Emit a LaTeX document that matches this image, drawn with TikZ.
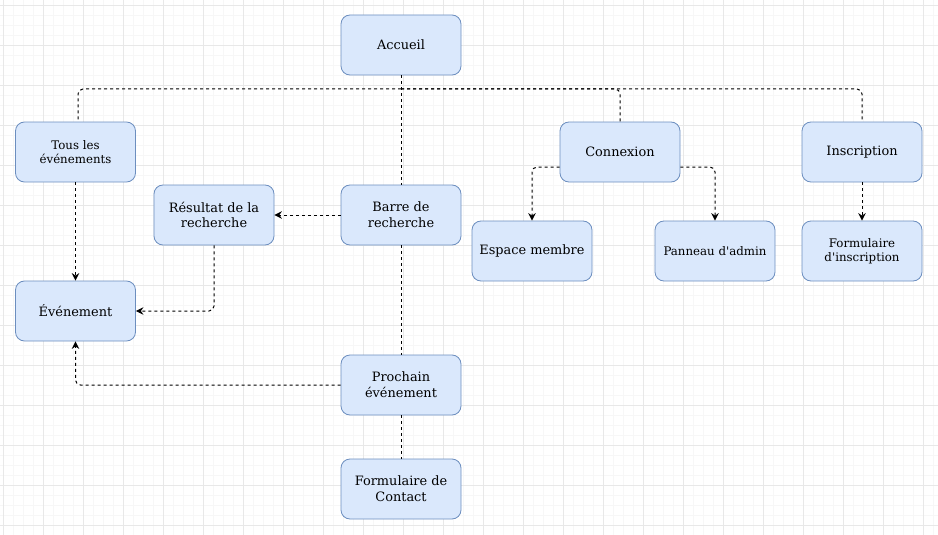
\documentclass[tikz,border=0pt]{standalone}
\usepackage{fontspec}
\setmainfont{DejaVu Serif}
\usetikzlibrary{arrows.meta}

\definecolor{boxfill}{HTML}{DAE8FC}
\definecolor{boxline}{HTML}{6C8EBF}
\definecolor{gridmajor}{HTML}{E8E8E8}
\definecolor{gridminor}{HTML}{F7F7F7}

\tikzset{
  page/.style={rectangle, rounded corners=9pt,
    minimum width=120pt, minimum height=60pt,
    fill=boxfill, draw=boxline, line width=0.8pt,
    align=center, inner sep=2pt,
    font=\fontsize{12.9}{15.8}\selectfont},
  smalltext/.style={font=\fontsize{11.8}{14}\selectfont},
  link/.style={draw=black, line width=1pt,
    dash pattern=on 3pt off 3pt, rounded corners=5pt},
  arrow/.style={link, -{Stealth[length=7.5pt,width=7.5pt,inset=2.5pt]}}
}

\begin{document}
\begin{tikzpicture}[x=1pt, y=-1pt]

\useasboundingbox (0,0) rectangle (938,535);

% Grid
\foreach \x in {3.5,13.5,...,933.5}
{
    \draw[gridminor, line width=0.6pt] (\x,0) -- (\x,535);
}
\foreach \y in {5,15,...,535}
{
    \draw[gridminor, line width=0.6pt] (0,\y) -- (938,\y);
}
\foreach \x in {3.5,43.5,...,923.5}
{
    \draw[gridmajor, line width=0.8pt] (\x,0) -- (\x,535);
}
\foreach \y in {5,45,...,525}
{
    \draw[gridmajor, line width=0.8pt] (0,\y) -- (938,\y);
}

% Pages
\node[page] (Accueil) at (401,45) {Accueil};
\node[page, smalltext] (Tous) at (75.5,152) {Tous les\\événements};
\node[page] (Resultat) at (214,215) {Résultat de la\\recherche};
\node[page] (Barre) at (401,215) {Barre de\\recherche};
\node[page] (Connexion) at (620,152) {Connexion};
\node[page] (Inscription) at (862,152) {Inscription};
\node[page] (Espace) at (532,251) {Espace membre};
\node[page, smalltext] (Admin) at (715,251) {Panneau d\textquotesingle admin};
\node[page, smalltext] (FormInscr) at (862,251) {Formulaire\\d\textquotesingle inscription};
\node[page] (Evenement) at (75.5,311) {Événement};
\node[page] (Prochain) at (401,385) {Prochain\\événement};
\node[page] (Contact) at (401,489) {Formulaire de\\Contact};

% Menu from Accueil
\coordinate (Hub) at (401,89);
\draw[link] (Accueil.south) -- (Barre.north);
\draw[link] (Hub) -| ([xshift=2.5pt]Tous.north);
\draw[link] (Hub) -| (Connexion.north);
\draw[link] (Hub) -| (Inscription.north);
\draw[link] (Barre.south) -- (Prochain.north);
\draw[link] (Prochain.south) -- (Contact.north);

% Links to pages
\draw[arrow] (Tous.south) -- (Evenement.north);
\draw[arrow] (Barre.west) -- (Resultat.east);
\draw[arrow] (Resultat.south) |- (Evenement.east);
\draw[arrow] (Prochain.west) -| (Evenement.south);
\draw[arrow] ([yshift=-15pt]Connexion.west) -| (Espace.north);
\draw[arrow] ([yshift=-15pt]Connexion.east) -| (Admin.north);
\draw[arrow] (Inscription.south) -- (FormInscr.north);

\end{tikzpicture}
\end{document}
